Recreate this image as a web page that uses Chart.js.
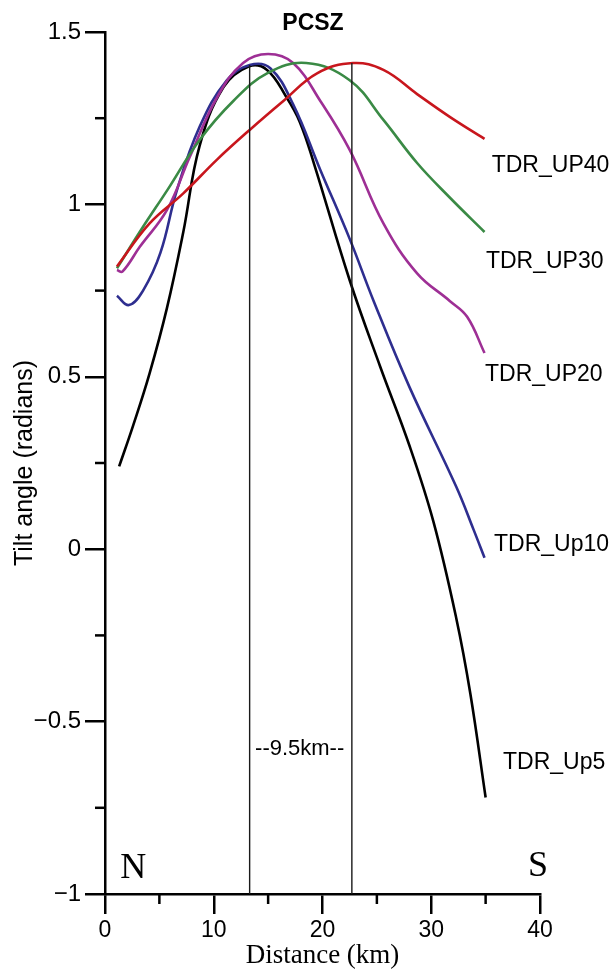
<!DOCTYPE html>
<html>
<head>
<meta charset="utf-8">
<title>PCSZ tilt angle</title>
<script src="https://cdn.jsdelivr.net/npm/chart.js@4.4.1/dist/chart.umd.min.js"></script>
<style>
  html, body { margin: 0; padding: 0; background: #fff; }
  canvas { display: block; }
</style>
</head>
<body>
<canvas id="tdr" width="613" height="969"></canvas>
<script>
// Tilt-derivative profiles across the PCSZ, N -> S (distance in km, angle in radians)
const up5X  = [1.3, 2.6, 4.1, 5.7, 7.2, 8.7, 10.9, 13.2, 14.9, 16.7, 17.9, 19.2, 22.5, 25.3, 28.0, 30.2, 32.3, 33.6, 35.0];
const up5Y  = [0.24, 0.36, 0.51, 0.70, 0.92, 1.17, 1.34, 1.40, 1.39, 1.31, 1.24, 1.12, 0.78, 0.53, 0.30, 0.08, -0.20, -0.42, -0.72];

const up10X = [1.1, 2.2, 3.5, 5.1, 6.6, 8.7, 11.2, 13.3, 15.2, 17.3, 19.8, 22.5, 24.7, 28.0, 32.3, 33.9, 34.9];
const up10Y = [0.735, 0.708, 0.75, 0.86, 1.04, 1.225, 1.36, 1.404, 1.395, 1.29, 1.10, 0.90, 0.72, 0.47, 0.181, 0.056, -0.025];

const up20X = [1.1, 1.6, 3.2, 5.7, 7.8, 10.3, 12.7, 15.0, 17.3, 19.8, 22.5, 25.6, 28.7, 31.7, 33.3, 34.9];
const up20Y = [0.81, 0.805, 0.877, 0.984, 1.138, 1.31, 1.41, 1.436, 1.41, 1.30, 1.158, 0.945, 0.80, 0.72, 0.674, 0.569];

const up30X = [1.1, 3.5, 5.7, 8.7, 11.8, 14.9, 18.5, 22.5, 25.6, 28.7, 31.7, 34.9];
const up30Y = [0.815, 0.935, 1.04, 1.187, 1.30, 1.38, 1.41, 1.36, 1.245, 1.12, 1.02, 0.92];

const up40X = [1.1, 4.1, 7.2, 10.3, 13.3, 16.4, 19.5, 22.8, 25.6, 28.7, 31.7, 34.9];
const up40Y = [0.82, 0.945, 1.032, 1.13, 1.216, 1.30, 1.38, 1.41, 1.39, 1.32, 1.254, 1.19];

// peak markers (vertical lines) and the 9.5 km spacing between them
const markerX   = [13.3, 22.7];
const markerTop = [1.404, 1.41];

// curve labels at the right end
const curveNames  = ['TDR_UP40', 'TDR_UP30', 'TDR_UP20', 'TDR_Up10', 'TDR_Up5'];
const curveLabelX = [35.56, 35.03, 34.94, 35.77, 36.6];
const curveLabelY = [1.111, 0.833, 0.505, 0.012, -0.62];

const xTicks = [0, 10, 20, 30, 40];
const xMinor = [5, 15, 25, 35];
const yTicks = [-1, -0.5, 0, 0.5, 1, 1.5];
const yMinor = [-0.75, -0.25, 0.25, 0.75, 1.25];

const pts = (xs, ys) => xs.map((x, i) => ({ x: x, y: ys[i] }));

const curve = (label, xs, ys, color) => ({
    label: label,
    data: pts(xs, ys),
    borderColor: color,
    borderWidth: 2.6,
    pointRadius: 0,
    tension: 0.4,
    fill: false
});

const marker = (i) => ({
    label: 'marker' + i,
    data: [{ x: markerX[i], y: -1 }, { x: markerX[i], y: markerTop[i] }],
    borderColor: '#1a1a1a',
    borderWidth: 1.4,
    pointRadius: 0,
    tension: 0,
    fill: false
});

// minor ticks + free text (labels, N/S, title)
const extras = {
    id: 'extras',
    afterDraw(chart) {
        const ctx = chart.ctx;
        const xs = chart.scales.x, ys = chart.scales.y;
        const area = chart.chartArea;
        ctx.save();
        ctx.strokeStyle = '#000';
        ctx.lineWidth = 2.5;
        yMinor.forEach(v => {
            const py = ys.getPixelForValue(v);
            ctx.beginPath(); ctx.moveTo(area.left - 10, py); ctx.lineTo(area.left, py); ctx.stroke();
        });
        xMinor.forEach(v => {
            const px = xs.getPixelForValue(v);
            ctx.beginPath(); ctx.moveTo(px, area.bottom); ctx.lineTo(px, area.bottom + 10); ctx.stroke();
        });

        ctx.fillStyle = '#000';
        ctx.textBaseline = 'middle';
        ctx.textAlign = 'left';
        ctx.font = '23px "Liberation Sans", Arial, sans-serif';
        curveNames.forEach((name, i) => {
            ctx.fillText(name, xs.getPixelForValue(curveLabelX[i]), ys.getPixelForValue(curveLabelY[i]));
        });

        ctx.textAlign = 'center';
        ctx.font = '22px "Liberation Sans", Arial, sans-serif';
        ctx.fillText('--9.5km--', xs.getPixelForValue(17.9), ys.getPixelForValue(-0.58));

        ctx.textBaseline = 'alphabetic';
        ctx.textAlign = 'left';
        ctx.font = '36px "Liberation Serif", "Times New Roman", serif';
        ctx.fillText('N', xs.getPixelForValue(1.4), ys.getPixelForValue(-0.954));
        ctx.fillText('S', xs.getPixelForValue(38.9), ys.getPixelForValue(-0.948));

        ctx.textAlign = 'center';
        ctx.textBaseline = 'middle';
        ctx.font = 'bold 23px "Liberation Sans", Arial, sans-serif';
        ctx.fillText('PCSZ', 313, 24);
        ctx.restore();
    }
};

const fmt = v => (v < 0 ? '\u2212' + Math.abs(v) : String(v));

new Chart(document.getElementById('tdr'), {
    type: 'line',
    data: {
        datasets: [
            marker(0),
            marker(1),
            curve('TDR_UP40', up40X, up40Y, '#c8161d'),
            curve('TDR_UP30', up30X, up30Y, '#3a8a45'),
            curve('TDR_UP20', up20X, up20Y, '#9e2f95'),
            curve('TDR_Up10', up10X, up10Y, '#2e2e8f'),
            curve('TDR_Up5',  up5X,  up5Y,  '#000000')
        ]
    },
    options: {
        responsive: false,
        animation: false,
        layout: { padding: { left: 0, right: 73, top: 32, bottom: 0 } },
        plugins: {
            legend: { display: false },
            tooltip: { enabled: false },
            title: { display: false }
        },
        scales: {
            x: {
                type: 'linear',
                min: 0,
                max: 40,
                afterFit: s => { s.height = 75; },
                afterBuildTicks: s => { s.ticks = xTicks.map(v => ({ value: v })); },
                border: { display: true, color: '#000', width: 2.5 },
                grid: { drawOnChartArea: false, drawTicks: true, tickLength: 20, color: '#000', lineWidth: 2.5 },
                ticks: {
                    color: '#000',
                    padding: 3,
                    maxRotation: 0,
                    font: { family: '"Liberation Sans", Arial, sans-serif', size: 23 },
                    callback: v => fmt(v)
                },
                title: {
                    display: true,
                    text: 'Distance (km)',
                    color: '#000',
                    font: { family: '"Liberation Serif", "Times New Roman", serif', size: 27 },
                    padding: { top: 0, bottom: -3 }
                }
            },
            y: {
                type: 'linear',
                min: -1,
                max: 1.5,
                afterFit: s => { s.width = 105; },
                afterBuildTicks: s => { s.ticks = yTicks.map(v => ({ value: v })); },
                border: { display: true, color: '#000', width: 2.5 },
                grid: { drawOnChartArea: false, drawTicks: true, tickLength: 20, color: '#000', lineWidth: 2.5 },
                ticks: {
                    color: '#000',
                    padding: 4,
                    font: { family: '"Liberation Sans", Arial, sans-serif', size: 24 },
                    callback: v => fmt(v)
                },
                title: {
                    display: true,
                    text: 'Tilt angle (radians)',
                    color: '#000',
                    font: { family: '"Liberation Sans", Arial, sans-serif', size: 25 },
                    padding: { top: 10, bottom: 0 }
                }
            }
        }
    },
    plugins: [extras]
});
</script>
</body>
</html>
